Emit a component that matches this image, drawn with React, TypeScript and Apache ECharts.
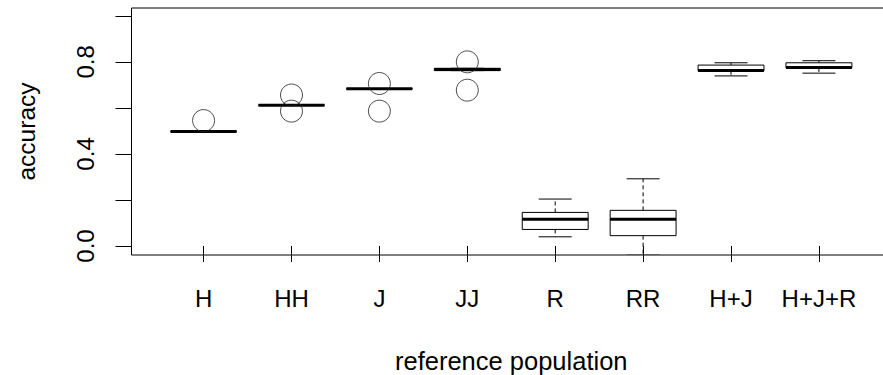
import React, { useEffect, useRef } from "react";
import * as echarts from "echarts";

const categories = ["H", "HH", "J", "JJ", "R", "RR", "H+J", "H+J+R"];
// [min, q1, median, q3, max] per category
const lowWhisker = [0.497, 0.612, 0.683, 0.762, 0.04, -0.04, 0.739, 0.751];
const lowerQuartile = [0.496, 0.611, 0.683, 0.762, 0.072, 0.045, 0.761, 0.774];
const medians = [0.497, 0.612, 0.683, 0.767, 0.116, 0.116, 0.762, 0.776];
const upperQuartile = [0.499, 0.613, 0.684, 0.772, 0.146, 0.155, 0.786, 0.796];
const highWhisker = [0.499, 0.613, 0.684, 0.772, 0.204, 0.292, 0.796, 0.805];
// outliers: [category index (1-based), value]
const outlierCat = [1, 2, 2, 3, 3, 4, 4];
const outlierVal = [0.545, 0.656, 0.586, 0.706, 0.586, 0.8, 0.677];
const yTicks = [0, 0.2, 0.4, 0.6, 0.8, 1.0];
const yLabels = [0, 0.4, 0.8];

const FONT = "Liberation Sans";

export default function App() {
  const ref = useRef<HTMLDivElement>(null);
  useEffect(() => {
    if (!ref.current) return;
    const chart = echarts.init(ref.current, null, { renderer: "svg" });
    const boxData = categories.map((_, i) => [
      i + 1,
      lowWhisker[i],
      lowerQuartile[i],
      medians[i],
      upperQuartile[i],
      highWhisker[i],
    ]);
    const outliers = outlierCat.map((c, i) => [c, outlierVal[i]]);
    const catPos = categories.map((_, i) => i + 1);

    chart.setOption({
      animation: false,
      backgroundColor: "#fff",
      grid: {
        left: 131.5,
        top: 8,
        right: -8,
        bottom: 120,
        show: true,
        borderColor: "#000",
        borderWidth: 1,
        backgroundColor: "transparent",
        containLabel: false,
        outerBoundsMode: "none",
      },
      xAxis: {
        type: "value",
        min: 0.18,
        max: 8.82,
        splitLine: { show: false },
        axisLine: { show: false },
        axisTick: {
          show: true,
          inside: false,
          length: 16,
          customValues: catPos,
          lineStyle: { color: "#000", width: 1 },
        },
        axisLabel: {
          customValues: catPos,
          formatter: (v: number) => categories[Math.round(v) - 1] ?? "",
          margin: 31,
          color: "#000",
          fontFamily: FONT,
          fontSize: 24,
        },
        name: "reference population",
        nameLocation: "middle",
        nameGap: 93,
        nameTextStyle: { color: "#000", fontFamily: FONT, fontSize: 25.5 },
      },
      yAxis: {
        type: "value",
        min: -0.039,
        max: 1.034,
        splitLine: { show: false },
        axisLine: { show: false },
        axisTick: {
          show: true,
          inside: false,
          length: 16,
          customValues: yTicks,
          lineStyle: { color: "#000", width: 1 },
        },
        axisLabel: {
          customValues: yLabels,
          formatter: (v: number) => v.toFixed(1),
          rotate: 90,
          margin: 34,
          color: "#000",
          fontFamily: FONT,
          fontSize: 24,
        },
        name: "accuracy",
        nameLocation: "middle",
        nameRotate: 90,
        nameGap: 93,
        nameTextStyle: { color: "#000", fontFamily: FONT, fontSize: 24.5 },
      },
      series: [
        {
          type: "custom",
          clip: true,
          data: boxData,
          encode: { x: 0, y: [1, 2, 3, 4, 5] },
          renderItem: (params: any, api: any) => {
            const x = api.value(0);
            const pMin = api.coord([x, api.value(1)]);
            const pQ1 = api.coord([x, api.value(2)]);
            const pMed = api.coord([x, api.value(3)]);
            const pQ3 = api.coord([x, api.value(4)]);
            const pMax = api.coord([x, api.value(5)]);
            const unit = api.size([1, 0])[0];
            const half = unit * 0.375;
            const cap = half / 2;
            const cx = pMed[0];
            const dash = { stroke: "#000", lineWidth: 1, lineDash: [4, 3] };
            const solid = { stroke: "#000", lineWidth: 1 };
            return {
              type: "group",
              children: [
                {
                  type: "line",
                  shape: { x1: cx, y1: pQ3[1], x2: cx, y2: pMax[1] },
                  style: dash,
                },
                {
                  type: "line",
                  shape: { x1: cx, y1: pQ1[1], x2: cx, y2: pMin[1] },
                  style: dash,
                },
                {
                  type: "line",
                  shape: { x1: cx - cap, y1: pMax[1], x2: cx + cap, y2: pMax[1] },
                  style: solid,
                },
                {
                  type: "line",
                  shape: { x1: cx - cap, y1: pMin[1], x2: cx + cap, y2: pMin[1] },
                  style: solid,
                },
                {
                  type: "rect",
                  shape: {
                    x: cx - half,
                    y: pQ3[1],
                    width: half * 2,
                    height: pQ1[1] - pQ3[1],
                  },
                  style: { fill: "#fff", stroke: "#000", lineWidth: 1 },
                },
                {
                  type: "line",
                  shape: { x1: cx - half, y1: pMed[1], x2: cx + half, y2: pMed[1] },
                  style: { stroke: "#000", lineWidth: 3 },
                },
              ],
            };
          },
        },
        {
          type: "scatter",
          data: outliers,
          symbol: "circle",
          symbolSize: 22,
          z: 3,
          itemStyle: {
            color: "rgba(0,0,0,0)",
            borderColor: "#222",
            borderWidth: 1,
          },
        },
      ],
    });
    return () => chart.dispose();
  }, []);
  return (
    <div
      ref={ref}
      style={{ position: "fixed", left: 0, top: 0, width: 883, height: 375 }}
    />
  );
}
